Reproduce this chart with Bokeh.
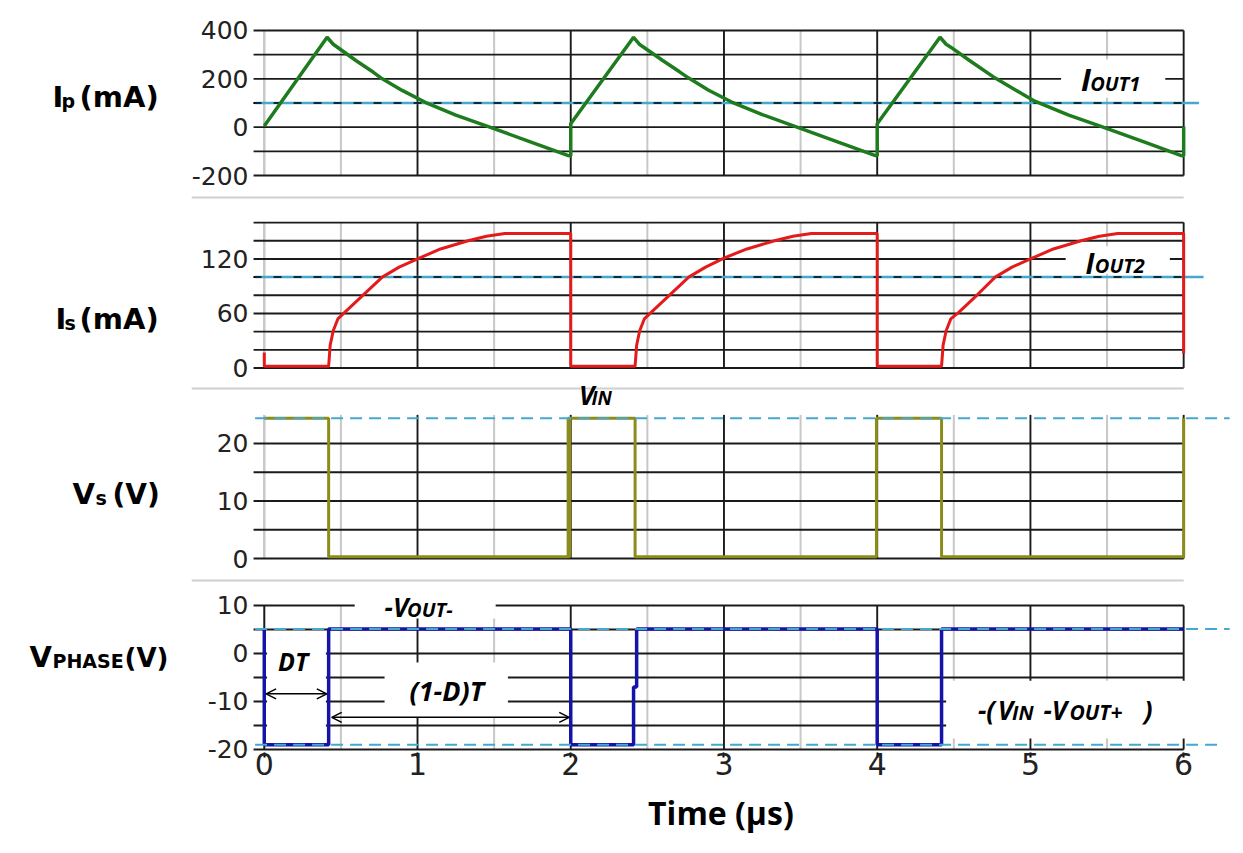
from bokeh.plotting import figure
from bokeh.models import Range1d, FixedTicker, Label, BoxAnnotation, Arrow, OpenHead
from bokeh.layouts import column, row
from bokeh.embed import file_html
from bokeh.resources import INLINE

# ---------------- data ----------------
time_ticks = [0, 1, 2, 3, 4, 5, 6]
major_vlines = [1, 2, 3, 4, 5, 6]
minor_vlines = [0.5, 1.5, 2.5, 3.5, 4.5, 5.5]

# primary current Ip (mA)
ip_t = [0.0, 0.41, 0.45, 0.60, 0.71, 0.77, 0.90, 1.05, 1.25, 1.49, 1.75, 1.98, 2.00,
        2.00, 2.41, 2.45, 2.60, 2.71, 2.77, 2.90, 3.05, 3.25, 3.49, 3.75, 3.98, 4.00,
        4.00, 4.41, 4.45, 4.48, 4.60, 4.77, 5.02, 5.25, 5.46, 5.75, 5.98, 6.00, 6.00]
ip_v = [5, 372, 343, 275, 228, 200, 152, 103, 50, -4, -64, -117, -118,
        14, 372, 342, 276, 229, 203, 153, 104, 52, -3, -63, -116, -118,
        14, 372, 343, 331, 277, 203, 110, 50, 3, -63, -117, -118, 3]

# secondary current Is (mA)
is_t = [0.0, 0.0, 0.42, 0.43, 0.45, 0.48, 0.53, 0.65, 0.77, 0.88, 1.00, 1.15, 1.33, 1.45, 1.57, 2.00, 2.00,
        2.42, 2.43, 2.45, 2.48, 2.53, 2.65, 2.77, 2.88, 3.00, 3.15, 3.33, 3.45, 3.57, 4.00, 4.00,
        4.42, 4.43, 4.45, 4.48, 4.53, 4.65, 4.77, 4.88, 5.00, 5.15, 5.33, 5.45, 5.57, 6.00, 6.00]
is_v = [17, 2, 2, 25, 41, 54, 62, 81, 100, 111, 120, 131, 140, 145, 148, 148, 2,
        2, 25, 41, 54, 62, 81, 100, 111, 121, 131, 140, 145, 148, 148, 2,
        2, 25, 41, 54, 61, 80, 100, 111, 120, 131, 140, 145, 148, 148, 16]

# switch voltage Vs (V)
vs_t = [0.0, 0.42, 0.42, 1.983, 1.983, 1.988, 1.988, 1.993, 1.993, 2.42, 2.42,
        3.995, 3.995, 4.42, 4.42, 6.0, 6.0]
vs_v = [24.4, 24.4, 0.3, 0.3, 24.4, 24.4, 0.3, 0.3, 24.4, 24.4, 0.3,
        0.3, 24.4, 24.4, 0.3, 0.3, 24.4]

# phase voltage Vphase (V)
vp_t = [0.0, 0.0, 0.42, 0.42, 2.0, 2.0, 2.41, 2.41, 2.43, 2.43, 4.0, 4.0, 4.42, 4.42, 6.0]
vp_v = [5.1, -19.0, -19.0, 5.1, 5.1, -19.0, -19.0, -7.0, -7.0, 5.1, 5.1, -19.0, -19.0, 5.1, 5.1]

# reference levels
iout1 = 100
iout2 = 100
vin_level = 24.4
vout_neg_level = 5.1
vphase_low_level = -19.0

# axis ticks / gridlines
ip_ticks = [-200, 0, 200, 400]
ip_grid = [-200, -100, 0, 100, 200, 300, 400]
is_ticks = [0, 60, 120]
is_grid = [0, 20, 40, 60, 80, 100, 120, 140, 160]
vs_ticks = [0, 10, 20]
vs_grid = [0, 5, 10, 15, 20]
vp_ticks = [-20, -10, 0, 10]
vp_grid = [-20, -15, -10, -5, 0, 5, 10]

# ---------------- styling ----------------
X_START, X_END = -0.475, 6.3187
GX0, GX1 = -0.07, 6.0
REF_X1 = 6.3
GRID_BLACK = "#1a1a1a"
GRID_GRAY = "#c8c8c8"
CYAN = "#45a8cf"
SEP = "#cfcfcf"
TICK_FONT = "DejaVu Sans"
MAIN_W = 1047
LEFT_W = 188


def make_fig(height, y0, y1, ticks, bottom=0, xaxis=False):
    p = figure(width=MAIN_W, height=height,
               x_range=Range1d(X_START, X_END), y_range=Range1d(y0, y1),
               output_backend="svg", toolbar_location=None,
               min_border_left=0, min_border_right=3,
               min_border_top=0, min_border_bottom=bottom,
               x_axis_location="below" if xaxis else None)
    p.grid.visible = False
    p.outline_line_color = None
    p.background_fill_color = "white"
    p.border_fill_color = "white"
    ya = p.yaxis[0]
    ya.ticker = FixedTicker(ticks=ticks)
    ya.major_label_overrides = {t: (f"-{-t}" if t < 0 else str(t)) for t in ticks}
    ya.axis_line_color = None
    ya.major_tick_line_color = None
    ya.minor_tick_line_color = None
    ya.major_tick_out = 0
    ya.major_tick_in = 0
    ya.minor_tick_out = 0
    ya.minor_tick_in = 0
    ya.major_label_text_font = TICK_FONT
    ya.major_label_text_font_size = "25px"
    ya.major_label_text_color = "#222222"
    ya.major_label_standoff = -57
    if xaxis:
        xa = p.xaxis[0]
        xa.ticker = FixedTicker(ticks=time_ticks)
        xa.axis_line_color = None
        xa.major_tick_line_color = "black"
        xa.major_tick_line_width = 2
        xa.major_tick_out = 5
        xa.major_tick_in = 0
        xa.minor_tick_line_color = None
        xa.minor_tick_out = 0
        xa.minor_tick_in = 0
        xa.major_label_text_font = TICK_FONT
        xa.major_label_text_font_size = "30px"
        xa.major_label_text_color = "#222222"
        xa.major_label_standoff = -5
    return p


def add_grid(p, hvals, ybot, ytop, zero_black=False):
    r = p.segment(x0=minor_vlines, x1=minor_vlines,
                  y0=[ybot] * len(minor_vlines), y1=[ytop] * len(minor_vlines),
                  line_color=GRID_GRAY, line_width=2)
    r.level = "image"
    r = p.segment(x0=[0], x1=[0], y0=[ybot], y1=[ytop],
                  line_color=GRID_BLACK if zero_black else GRID_GRAY,
                  line_width=2 if zero_black else 2.5)
    r.level = "image"
    r = p.segment(x0=[GX0] * len(hvals), x1=[GX1] * len(hvals), y0=hvals, y1=hvals,
                  line_color=GRID_BLACK, line_width=1.9)
    r.level = "image"
    r = p.segment(x0=major_vlines, x1=major_vlines,
                  y0=[ybot] * len(major_vlines), y1=[ytop] * len(major_vlines),
                  line_color=GRID_BLACK, line_width=1.9)
    r.level = "image"


def white_box(p, l, r, b, t):
    p.add_layout(BoxAnnotation(left=l, right=r, bottom=b, top=t, fill_color="white",
                               fill_alpha=1.0, line_color=None, level="underlay"))


def separator(p, yc, half):
    p.add_layout(BoxAnnotation(left=X_START, right=6.0, bottom=yc - half, top=yc + half,
                               fill_color=SEP, fill_alpha=1.0, line_color=None, level="underlay"))


def txt(p, x, y, s, size, font="Open Sans", style="bold italic", color="black", align="left"):
    p.add_layout(Label(x=x, y=y, text=s, text_font=font, text_font_style=style,
                       text_font_size=size, text_color=color, text_baseline="alphabetic",
                       text_align=align))


# ---------------- left column of panel titles ----------------
pl = figure(width=LEFT_W, height=845, x_range=Range1d(0, LEFT_W), y_range=Range1d(845, 0),
            output_backend="svg", toolbar_location=None, x_axis_location=None,
            y_axis_location=None, min_border=0)
pl.grid.visible = False
pl.outline_line_color = None
panel_titles = [
    [("I", 52, 96.4, "29px"), ("p", 61, 100.4, "19px"), ("(mA)", 79, 96.4, "29px")],
    [("I", 55, 318.4, "29px"), ("s", 64, 322.4, "19px"), ("(mA)", 79, 318.4, "29px")],
    [("V", 72, 493.4, "29px"), ("s", 95, 497.4, "19px"), ("(V)", 112, 493.8, "28px")],
    [("V", 29, 656.4, "29px"), ("PHASE", 52, 660.4, "19px"), ("(V)", 124, 657.6, "26px")],
]
for pieces in panel_titles:
    for s, x, y, size in pieces:
        txt(pl, x, y, s, size, font="DejaVu Sans", style="bold")

# ---------------- panel 1: Ip ----------------
p1 = make_fig(199, -299.3, 524.1, ip_ticks)
add_grid(p1, ip_grid, -200, 400)
white_box(p1, 5.20, 5.88, 122, 280)
p1.line([-0.06, 6.1], [iout1, iout1], line_color=CYAN, line_width=2.5)
p1.line([GX0, GX1], [iout1, iout1], line_color="black", line_width=1.5, line_dash="8 12")
p1.line(ip_t, ip_v, line_color="#1e7b1e", line_width=3.5)
separator(p1, -291.0, 4.1)
txt(p1, 5.33, 200, "I", "31px")
txt(p1, 5.39, 182, "OUT1", "20px")

# ---------------- panel 2: Is (its frame also holds the V_IN tag) ----------------
p2 = make_fig(215, -51.16, 185.4, is_ticks)
add_grid(p2, is_grid, 0, 160)
white_box(p2, 5.23, 5.91, 103.5, 134)
p2.line([-0.06, 6.13], [iout2, iout2], line_color=CYAN, line_width=2.5)
p2.line([GX0, GX1], [iout2, iout2], line_color="black", line_width=1.5, line_dash="8 12")
p2.line(is_t, is_v, line_color="#e31b1b", line_width=3)
separator(p2, -22.55, 1.1)
txt(p2, 5.36, 115.9, "I", "28px")
txt(p2, 5.42, 112.4, "OUT2", "20px")
txt(p2, 2.054, -29.81, "V", "26px")
txt(p2, 2.135, -32.89, "IN", "19px")

# ---------------- panel 3: Vs ----------------
p3 = make_fig(168, -4.17, 25.04, vs_ticks)
add_grid(p3, vs_grid, 0, 25.0)
p3.line(vs_t, vs_v, line_color="#8c8c1a", line_width=3)
p3.line([-0.06, REF_X1], [vin_level, vin_level], line_color=CYAN, line_width=2, line_dash="12 7")
separator(p3, -3.83, 0.17)

# ---------------- panel 4: Vphase ----------------
p4 = make_fig(208, -20.625, 14.79, vp_ticks, bottom=38, xaxis=True)
add_grid(p4, vp_grid, -20, 10, zero_black=True)
white_box(p4, 0.59, 1.51, 7.3, 14.9)
white_box(p4, 0.018, 0.402, -18.3, 4.3)
white_box(p4, 0.785, 1.59, -13.4, -1.9)
white_box(p4, 4.45, 6.32, -17.7, -5.7)
p4.line(vp_t, vp_v, line_color="#1414a8", line_width=3.5)
p4.line([-0.06, REF_X1], [vout_neg_level, vout_neg_level], line_color=CYAN, line_width=2, line_dash="12 7")
p4.line([-0.06, 6.25], [vphase_low_level, vphase_low_level], line_color=CYAN, line_width=2, line_dash="12 7")
p4.add_layout(Arrow(start=OpenHead(size=10, line_width=1.5), end=OpenHead(size=10, line_width=1.5),
                    x_start=0.012, y_start=-8.4, x_end=0.408, y_end=-8.4,
                    line_width=1.5, line_color="black"))
p4.add_layout(Arrow(start=OpenHead(size=10, line_width=1.5), end=OpenHead(size=10, line_width=1.5),
                    x_start=0.44, y_start=-13.3, x_end=1.99, y_end=-13.3,
                    line_width=1.5, line_color="black"))
txt(p4, 0.785, 9.73, "-V", "26px")
txt(p4, 0.932, 9.23, "OUT-", "20px")
txt(p4, 0.09, -1.52, "DT", "25px")
txt(p4, 0.948, -7.69, "(1-D)T", "27px")
txt(p4, 4.657, -11.79, "-(", "26px")
txt(p4, 4.787, -11.79, "V", "26px")
txt(p4, 4.880, -12.29, "IN", "20px")
txt(p4, 5.085, -11.79, "-V", "26px")
txt(p4, 5.255, -12.29, "OUT+", "21px")
txt(p4, 5.740, -11.79, ")", "26px")

# ---------------- x-axis title strip ----------------
p5 = figure(width=MAIN_W, height=55, x_range=p4.x_range, y_range=Range1d(0, 55),
            output_backend="svg", toolbar_location=None, x_axis_location=None,
            y_axis_location=None, min_border_left=0, min_border_right=3,
            min_border_top=0, min_border_bottom=0)
p5.grid.visible = False
p5.outline_line_color = None
txt(p5, 2.98, 32.8, "Time (µs)", "32px", style="bold", align="center")

layout = row(pl, column(p1, p2, p3, p4, p5))
open("out.html", "w").write(file_html(layout, INLINE))
